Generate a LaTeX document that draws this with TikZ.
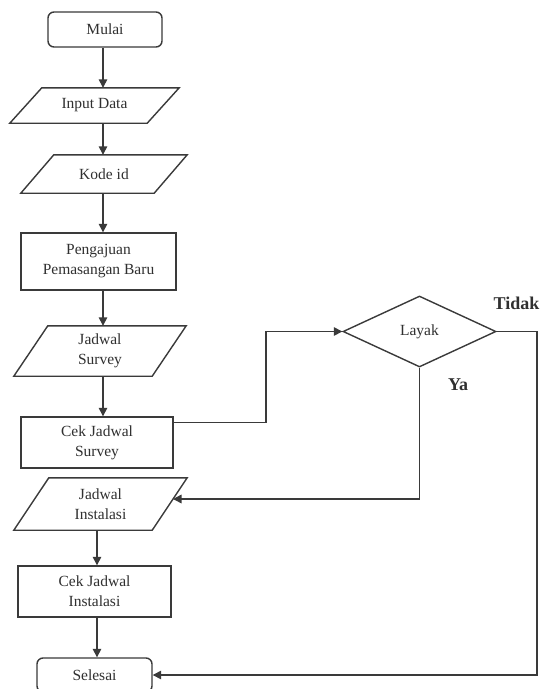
\documentclass[tikz,border=0pt]{standalone}
\usepackage{fontspec}
\setmainfont{Liberation Serif}
\usetikzlibrary{shapes.geometric,arrows.meta,calc}
\definecolor{ink}{HTML}{3A3A3A}
\definecolor{txt}{HTML}{303030}
% outline of an input/output box drawn over the frame of node #1, slant #2
\newcommand\ioshape[2]{\draw[flowline] ([xshift=#2]#1.north west) -- (#1.north east)
  -- ([xshift=-#2]#1.south east) -- (#1.south west) -- cycle;}
\tikzset{
  flowline/.style={draw=ink,line width=1.4pt,line join=miter},
  arr/.style={flowline,-{Triangle[length=8.5pt,width=8.5pt]}},
  lbl/.style={text=txt,font=\fontsize{15.5}{20}\selectfont,align=center,inner sep=0pt},
  procbox/.style={lbl,rectangle,flowline},
  termbox/.style={lbl,rectangle,flowline,rounded corners=6pt},
  iobox/.style={lbl,rectangle},
  decbox/.style={lbl,diamond,flowline,aspect=2.15},
  answer/.style={text=txt,font=\fontsize{18}{20}\selectfont\bfseries,inner sep=0pt}
}
\begin{document}
\begin{tikzpicture}[x=1pt,y=-1pt]
\useasboundingbox[fill=white] (0,0) rectangle (541,689);

% main column
\node[termbox,minimum width=114pt,minimum height=35pt] (mulai) at (105,29.5) {Mulai};
\node[iobox,minimum width=169pt,minimum height=35pt] (input) at (94.5,105.5) {Input Data};
\ioshape{input}{32pt}
\node[iobox,minimum width=166pt,minimum height=38pt] (kode) at (104,174) {Kode id};
\ioshape{kode}{33pt}
\node[procbox,minimum width=155pt,minimum height=57pt] (aju) at (98.5,261.5) {Pengajuan\\Pemasangan Baru};
\node[iobox,minimum width=172pt,minimum height=50pt] (survey) at (100,351) {Jadwal\\Survey};
\ioshape{survey}{34pt}
\node[procbox,minimum width=152pt,minimum height=51pt] (ceksurvey) at (97,442.5) {Cek Jadwal\\Survey};
\node[iobox,minimum width=173pt,minimum height=52pt] (instalasi) at (100.5,504) {Jadwal\\Instalasi};
\ioshape{instalasi}{35pt}
\node[procbox,minimum width=153pt,minimum height=51pt] (cekinst) at (94.5,591.5) {Cek Jadwal\\Instalasi};
\node[termbox,minimum width=115pt,minimum height=34pt] (selesai) at (94.5,675) {Selesai};

% decision
\node[decbox,minimum width=153pt,minimum height=71pt] (layak) at (419.5,331.5) {Layak};
\node[answer,anchor=east] (tidak) at (539.5,303) {Tidak};
\node[answer] (ya) at (458,385) {Ya};

% routing helpers
\coordinate (colA) at (103,0);
\coordinate (colB) at (97,0);
\coordinate (turn) at (266,0);
\coordinate (tx) at (537,0);
\coordinate (yaend) at (173,499);
\coordinate (cekout) at ([yshift=-6pt]ceksurvey.north east);

% straight flow
\draw[arr] (mulai.south -| colA) -- (input.north -| colA);
\draw[arr] (input.south -| colA) -- (kode.north -| colA);
\draw[arr] (kode.south -| colA) -- (aju.north -| colA);
\draw[arr] (aju.south -| colA) -- (survey.north -| colA);
\draw[arr] (survey.south -| colA) -- (ceksurvey.north -| colA);
\draw[arr] (instalasi.south -| colB) -- (cekinst.north -| colB);
\draw[arr] (cekinst.south -| colB) -- (selesai.north -| colB);

% branches
\draw[arr] (cekout) -- (cekout -| turn) |- (layak.west);
\draw[arr] (layak.south) |- (yaend);
\draw[arr] (layak.east) -- (layak.east -| tx) |- (selesai.east);
\end{tikzpicture}
\end{document}
